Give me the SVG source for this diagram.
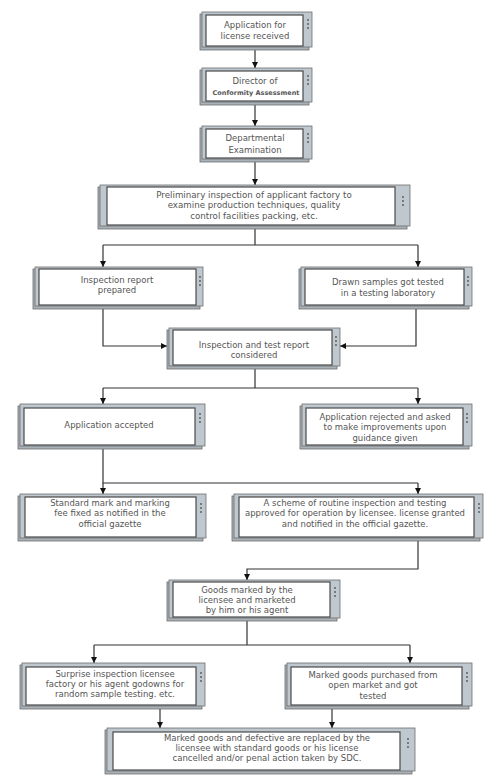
<svg xmlns="http://www.w3.org/2000/svg" width="500" height="779" viewBox="0 0 500 779">
<defs>
<style>
.sh{fill:#a9b1b9;stroke:#6e6e6e;stroke-width:0.8}
.fr{fill:#bfc7cf;stroke:#6e6e6e;stroke-width:0.8}
.in{fill:#ffffff;stroke:#4a4a4a;stroke-width:1.2}
.dt{fill:#555}
.t{font-family:"DejaVu Sans",Verdana,sans-serif;font-size:8.5px;fill:#555;text-anchor:middle}
.b{font-weight:bold;font-size:6.5px}
.l{font-size:8.7px}
.c{fill:none;stroke:#333;stroke-width:1.2}
</style>
<marker id="ar" viewBox="0 0 8 8" refX="8" refY="4" markerWidth="6" markerHeight="6" orient="auto" markerUnits="userSpaceOnUse">
<path d="M0,0 L8,4 L0,8 z" fill="#111"/>
</marker>
</defs>
<rect width="500" height="779" fill="#fff"/>

<g id="connectors">
<path class="c" d="M255,50 V68" marker-end="url(#ar)"/>
<path class="c" d="M255,105 V126" marker-end="url(#ar)"/>
<path class="c" d="M255,162 V185" marker-end="url(#ar)"/>
<path class="c" d="M255,229 V245 M103,245 H418"/>
<path class="c" d="M103,245 V267" marker-end="url(#ar)"/>
<path class="c" d="M418,245 V267" marker-end="url(#ar)"/>
<path class="c" d="M103,309 V346 H167" marker-end="url(#ar)"/>
<path class="c" d="M416,309 V346 H340" marker-end="url(#ar)"/>
<path class="c" d="M255,369 V388 M103,388 H418"/>
<path class="c" d="M103,388 V404" marker-end="url(#ar)"/>
<path class="c" d="M418,388 V404" marker-end="url(#ar)"/>
<path class="c" d="M103,449 V483 H418"/>
<path class="c" d="M103,483 V494" marker-end="url(#ar)"/>
<path class="c" d="M418,483 V494" marker-end="url(#ar)"/>
<path class="c" d="M418,541 V569 H247 V580" marker-end="url(#ar)"/>
<path class="c" d="M247,621 V645 M94,645 H410"/>
<path class="c" d="M94,645 V663" marker-end="url(#ar)"/>
<path class="c" d="M410,645 V663" marker-end="url(#ar)"/>
<path class="c" d="M160,709 V728" marker-end="url(#ar)"/>
<path class="c" d="M332,709 V728" marker-end="url(#ar)"/>
</g>

<g id="n1">
<rect class="sh" x="200" y="14" width="109" height="36"/>
<rect class="fr" x="202" y="12" width="110" height="35"/>
<rect class="in" x="206" y="15" width="97" height="31"/>
<circle class="dt" cx="308" cy="20" r="0.9"/><circle class="dt" cx="308" cy="24" r="0.9"/><circle class="dt" cx="308" cy="28" r="0.9"/>
<text class="t" x="255" y="28">Application for</text>
<text class="t" x="255" y="39">license received</text>
</g>

<g id="n2">
<rect class="sh" x="200" y="70" width="109" height="35"/>
<rect class="fr" x="202" y="68" width="110" height="34"/>
<rect class="in" x="206" y="71" width="97" height="30"/>
<circle class="dt" cx="308" cy="76" r="0.9"/><circle class="dt" cx="308" cy="80" r="0.9"/><circle class="dt" cx="308" cy="84" r="0.9"/>
<text class="t" x="255" y="84">Director of</text>
<text class="t b" x="256" y="95">Conformity Assessment</text>
</g>

<g id="n3">
<rect class="sh" x="200" y="128" width="109" height="34"/>
<rect class="fr" x="202" y="126" width="110" height="33"/>
<rect class="in" x="206" y="129" width="97" height="29"/>
<circle class="dt" cx="308" cy="134" r="0.9"/><circle class="dt" cx="308" cy="138" r="0.9"/><circle class="dt" cx="308" cy="142" r="0.9"/>
<text class="t" x="255" y="141">Departmental</text>
<text class="t" x="255" y="153">Examination</text>
</g>

<g id="n4">
<rect class="sh" x="98" y="187" width="309" height="42"/>
<rect class="fr" x="100" y="185" width="310" height="41"/>
<rect class="in" x="107" y="187" width="288" height="38"/>
<circle class="dt" cx="403" cy="197" r="0.9"/><circle class="dt" cx="403" cy="201" r="0.9"/><circle class="dt" cx="403" cy="205" r="0.9"/>
<text class="t l" x="254" y="198">Preliminary inspection of applicant factory to</text>
<text class="t l" x="254" y="208">examine production techniques, quality</text>
<text class="t l" x="254" y="219">control facilities packing, etc.</text>
</g>

<g id="n5">
<rect class="sh" x="33" y="269" width="167" height="40"/>
<rect class="fr" x="35" y="267" width="168" height="39"/>
<rect class="in" x="39" y="269" width="157" height="36"/>
<circle class="dt" cx="200" cy="277" r="0.9"/><circle class="dt" cx="200" cy="281" r="0.9"/><circle class="dt" cx="200" cy="285" r="0.9"/>
<text class="t" x="117" y="283">Inspection report</text>
<text class="t" x="117" y="293">prepared</text>
</g>

<g id="n6">
<rect class="sh" x="299" y="269" width="170" height="40"/>
<rect class="fr" x="301" y="267" width="171" height="39"/>
<rect class="in" x="305" y="269" width="159" height="36"/>
<circle class="dt" cx="468" cy="277" r="0.9"/><circle class="dt" cx="468" cy="281" r="0.9"/><circle class="dt" cx="468" cy="285" r="0.9"/>
<text class="t" x="388" y="285">Drawn samples got tested</text>
<text class="t" x="388" y="296">in a testing laboratory</text>
</g>

<g id="n7">
<rect class="sh" x="167" y="330" width="170" height="39"/>
<rect class="fr" x="169" y="328" width="171" height="38"/>
<rect class="in" x="173" y="330" width="159" height="35"/>
<circle class="dt" cx="336" cy="337" r="0.9"/><circle class="dt" cx="336" cy="341" r="0.9"/><circle class="dt" cx="336" cy="345" r="0.9"/>
<text class="t" x="254" y="348">Inspection and test report</text>
<text class="t" x="254" y="358">considered</text>
</g>

<g id="n8">
<rect class="sh" x="18" y="406" width="184" height="43"/>
<rect class="fr" x="20" y="404" width="185" height="42"/>
<rect class="in" x="24" y="408" width="171" height="37"/>
<circle class="dt" cx="200" cy="414" r="0.9"/><circle class="dt" cx="200" cy="418" r="0.9"/><circle class="dt" cx="200" cy="422" r="0.9"/>
<text class="t" x="109" y="428">Application accepted</text>
</g>

<g id="n9">
<rect class="sh" x="300" y="406" width="169" height="43"/>
<rect class="fr" x="302" y="404" width="170" height="42"/>
<rect class="in" x="306" y="408" width="157" height="37"/>
<circle class="dt" cx="467" cy="414" r="0.9"/><circle class="dt" cx="467" cy="418" r="0.9"/><circle class="dt" cx="467" cy="422" r="0.9"/>
<text class="t" x="385" y="420">Application rejected and asked</text>
<text class="t" x="385" y="430">to make improvements upon</text>
<text class="t" x="385" y="441">guidance given</text>
</g>

<g id="n10">
<rect class="sh" x="18" y="496" width="185" height="45"/>
<rect class="fr" x="20" y="494" width="186" height="44"/>
<rect class="in" x="25" y="497" width="171" height="40"/>
<circle class="dt" cx="201" cy="504" r="0.9"/><circle class="dt" cx="201" cy="508" r="0.9"/><circle class="dt" cx="201" cy="512" r="0.9"/>
<text class="t" x="110" y="506">Standard mark and marking</text>
<text class="t" x="110" y="516">fee fixed as notified in the</text>
<text class="t" x="110" y="527">official gazette</text>
</g>

<g id="n11">
<rect class="sh" x="232" y="496" width="248" height="45"/>
<rect class="fr" x="234" y="494" width="249" height="44"/>
<rect class="in" x="239" y="497" width="235" height="40"/>
<circle class="dt" cx="479" cy="504" r="0.9"/><circle class="dt" cx="479" cy="508" r="0.9"/><circle class="dt" cx="479" cy="512" r="0.9"/>
<text class="t" x="355" y="506">A scheme of routine inspection and testing</text>
<text class="t" x="355" y="516">approved for operation by licensee. license granted</text>
<text class="t" x="355" y="527">and notified in the official gazette.</text>
</g>

<g id="n12">
<rect class="sh" x="167" y="582" width="170" height="39"/>
<rect class="fr" x="169" y="580" width="171" height="38"/>
<rect class="in" x="173" y="582" width="157" height="35"/>
<circle class="dt" cx="335" cy="588" r="0.9"/><circle class="dt" cx="335" cy="592" r="0.9"/><circle class="dt" cx="335" cy="596" r="0.9"/>
<text class="t" x="247" y="593">Goods marked by the</text>
<text class="t" x="247" y="603">licensee and marketed</text>
<text class="t" x="247" y="613">by him or his agent</text>
</g>

<g id="n13">
<rect class="sh" x="20" y="665" width="182" height="44"/>
<rect class="fr" x="22" y="663" width="183" height="43"/>
<rect class="in" x="26" y="667" width="170" height="38"/>
<circle class="dt" cx="201" cy="673" r="0.9"/><circle class="dt" cx="201" cy="677" r="0.9"/><circle class="dt" cx="201" cy="681" r="0.9"/>
<text class="t" x="115" y="677">Surprise inspection licensee</text>
<text class="t" x="115" y="687">factory or his agent godowns for</text>
<text class="t" x="115" y="697">random sample testing. etc.</text>
</g>

<g id="n14">
<rect class="sh" x="285" y="665" width="184" height="44"/>
<rect class="fr" x="287" y="663" width="185" height="43"/>
<rect class="in" x="291" y="667" width="171" height="38"/>
<circle class="dt" cx="467" cy="673" r="0.9"/><circle class="dt" cx="467" cy="677" r="0.9"/><circle class="dt" cx="467" cy="681" r="0.9"/>
<text class="t" x="373" y="678">Marked goods purchased from</text>
<text class="t" x="373" y="688">open market and got</text>
<text class="t" x="373" y="699">tested</text>
</g>

<g id="n15">
<rect class="sh" x="105" y="730" width="307" height="44"/>
<rect class="fr" x="107" y="728" width="308" height="43"/>
<rect class="in" x="113" y="732" width="287" height="38"/>
<circle class="dt" cx="408" cy="739" r="0.9"/><circle class="dt" cx="408" cy="743" r="0.9"/><circle class="dt" cx="408" cy="747" r="0.9"/>
<text class="t" x="267" y="741">Marked goods and defective are replaced by the</text>
<text class="t" x="267" y="751">licensee with standard goods or his license</text>
<text class="t" x="267" y="761">cancelled and/or penal action taken by SDC.</text>
</g>
</svg>
